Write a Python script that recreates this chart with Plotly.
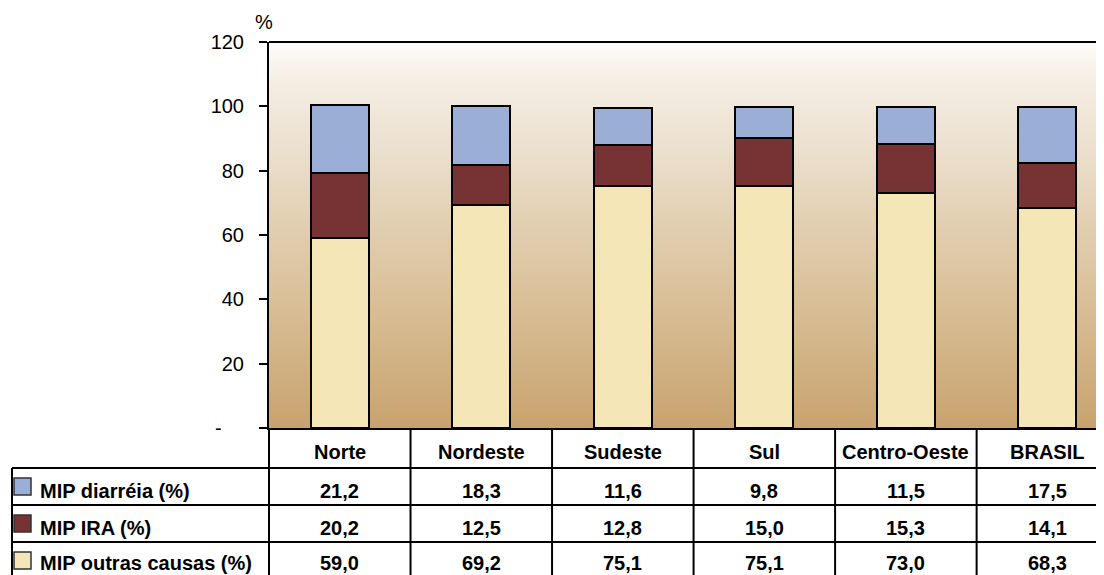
import base64
import struct
import zlib

import plotly.graph_objects as go

categories = ["Norte", "Nordeste", "Sudeste", "Sul", "Centro-Oeste", "BRASIL"]
diarreia = [21.2, 18.3, 11.6, 9.8, 11.5, 17.5]
ira = [20.2, 12.5, 12.8, 15.0, 15.3, 14.1]
outras = [59.0, 69.2, 75.1, 75.1, 73.0, 68.3]

row_labels = ["MIP diarréia (%)", "MIP IRA (%)", "MIP outras causas (%)"]
row_values = [diarreia, ira, outras]
row_colors = ["#9aaed6", "#773333", "#f5e6b8"]

y_ticks = [0, 20, 40, 60, 80, 100, 120]
y_ticktext = ["-\u00a0\u00a0\u00a0\u00a0", "20", "40", "60", "80", "100", "120"]

FONT = "Liberation Sans, Arial, sans-serif"
FS = 20
# page is rendered with an 8px body margin, so the figure is 8px smaller
OFF = 8
W, H = 1104 - OFF, 575 - OFF
L, R, T, B = 269, 1104, 42, 428   # plot area in page pixels


def px_x(p):
    return (p - L) / (R - L)


def px_y(p):
    return (B - p) / (B - T)


def fmt(v):
    return f"{v:.1f}".replace(".", ",")


def gradient_png(stops, h=256, w=4):
    raw = b""
    for i in range(h):
        t = i / (h - 1)
        for (t0, c0), (t1, c1) in zip(stops, stops[1:]):
            if t0 <= t <= t1:
                f = (t - t0) / (t1 - t0) if t1 > t0 else 0
                rgb = [round(a + (b - a) * f) for a, b in zip(c0, c1)]
                break
        raw += b"\x00" + bytes(rgb) * w

    def chunk(tag, data):
        return (struct.pack(">I", len(data)) + tag + data
                + struct.pack(">I", zlib.crc32(tag + data) & 0xffffffff))

    png = (b"\x89PNG\r\n\x1a\n"
           + chunk(b"IHDR", struct.pack(">IIBBBBB", w, h, 8, 2, 0, 0, 0))
           + chunk(b"IDAT", zlib.compress(raw))
           + chunk(b"IEND", b""))
    return "data:image/png;base64," + base64.b64encode(png).decode()


bg = gradient_png([
    (0.0, (253, 252, 249)),
    (0.1, (244, 238, 228)),
    (0.25, (237, 226, 210)),
    (0.45, (227, 209, 181)),
    (0.7, (216, 189, 148)),
    (1.0, (200, 163, 111)),
])

fig = go.Figure()

# stacked bars: bottom -> top
for vals, color in [(outras, row_colors[2]), (ira, row_colors[1]), (diarreia, row_colors[0])]:
    fig.add_trace(go.Bar(
        x=categories, y=vals, width=0.41,
        marker=dict(color=color, line=dict(color="black", width=2)),
        showlegend=False,
    ))

shapes = []
annotations = []
line = dict(color="black", width=2)
bold = dict(family=FONT, size=FS, color="black", weight="bold")

# top border of plot
shapes.append(dict(type="line", xref="paper", yref="paper", x0=0, x1=1, y0=1, y1=1, line=line))
# axis line continued down through the table
shapes.append(dict(type="line", xref="paper", yref="paper", x0=0, x1=0,
                   y0=px_y(B), y1=px_y(600), line=line))

# table rows
row_tops = [468, 505, 542]
row_h = 37
text_y = [491, 528, 562.5]
for yy in row_tops:
    shapes.append(dict(type="line", xref="paper", yref="paper", x0=px_x(12), x1=1,
                       y0=px_y(yy), y1=px_y(yy), line=line))
shapes.append(dict(type="line", xref="paper", yref="paper", x0=px_x(12), x1=px_x(12),
                   y0=px_y(468), y1=px_y(600), line=line))
for i in range(len(categories) - 1):
    shapes.append(dict(type="line", xref="x", yref="paper", x0=i + 0.5, x1=i + 0.5,
                       y0=px_y(B), y1=px_y(600), line=line))

# header row
for c in categories:
    annotations.append(dict(x=c, y=px_y(452), xref="x", yref="paper", text=c,
                            xanchor="center", yanchor="middle",
                            showarrow=False, font=bold))

# data rows
for r, (label, vals, color) in enumerate(zip(row_labels, row_values, row_colors)):
    cy = row_tops[r] + row_h / 2
    shapes.append(dict(type="rect", xref="paper", yref="paper",
                       x0=px_x(14), x1=px_x(31), y0=px_y(cy - 8.5), y1=px_y(cy + 8.5),
                       fillcolor=color, line=dict(color="#333333", width=1.5)))
    annotations.append(dict(x=px_x(38), y=px_y(text_y[r]), xref="paper", yref="paper", text=label,
                            xanchor="left", yanchor="middle", showarrow=False, font=bold))
    for c, v in zip(categories, vals):
        annotations.append(dict(x=c, y=px_y(text_y[r]), xref="x", yref="paper", text=fmt(v),
                                xanchor="center", yanchor="middle", showarrow=False, font=bold))

annotations.append(dict(x=px_x(264), y=px_y(22), xref="paper", yref="paper", text="%",
                        xanchor="center", yanchor="middle",
                        showarrow=False, font=dict(family=FONT, size=FS, color="black")))

fig.update_layout(
    width=W, height=H,
    margin=dict(l=L - OFF, r=W - (R - OFF), t=T - OFF, b=H - (B - OFF), pad=0),
    paper_bgcolor="white",
    plot_bgcolor="rgba(0,0,0,0)",
    barmode="stack",
    showlegend=False,
    shapes=shapes,
    annotations=annotations,
    images=[dict(source=bg, xref="paper", yref="paper", x=0, y=1, sizex=1, sizey=1,
                 sizing="stretch", layer="below", xanchor="left", yanchor="top")],
    xaxis=dict(range=[-0.5, 5.4], showticklabels=False, showgrid=False, zeroline=False,
               showline=True, linecolor="black", linewidth=2, ticks=""),
    yaxis=dict(range=[0, 120], tickvals=y_ticks, ticktext=y_ticktext, showgrid=False,
               zeroline=False, showline=True, linecolor="black", linewidth=2,
               ticks="outside", ticklen=8, tickwidth=2, tickcolor="black",
               ticklabelstandoff=11,
               tickfont=dict(family=FONT, size=FS, color="black")),
)

fig.write_html("out.html")
